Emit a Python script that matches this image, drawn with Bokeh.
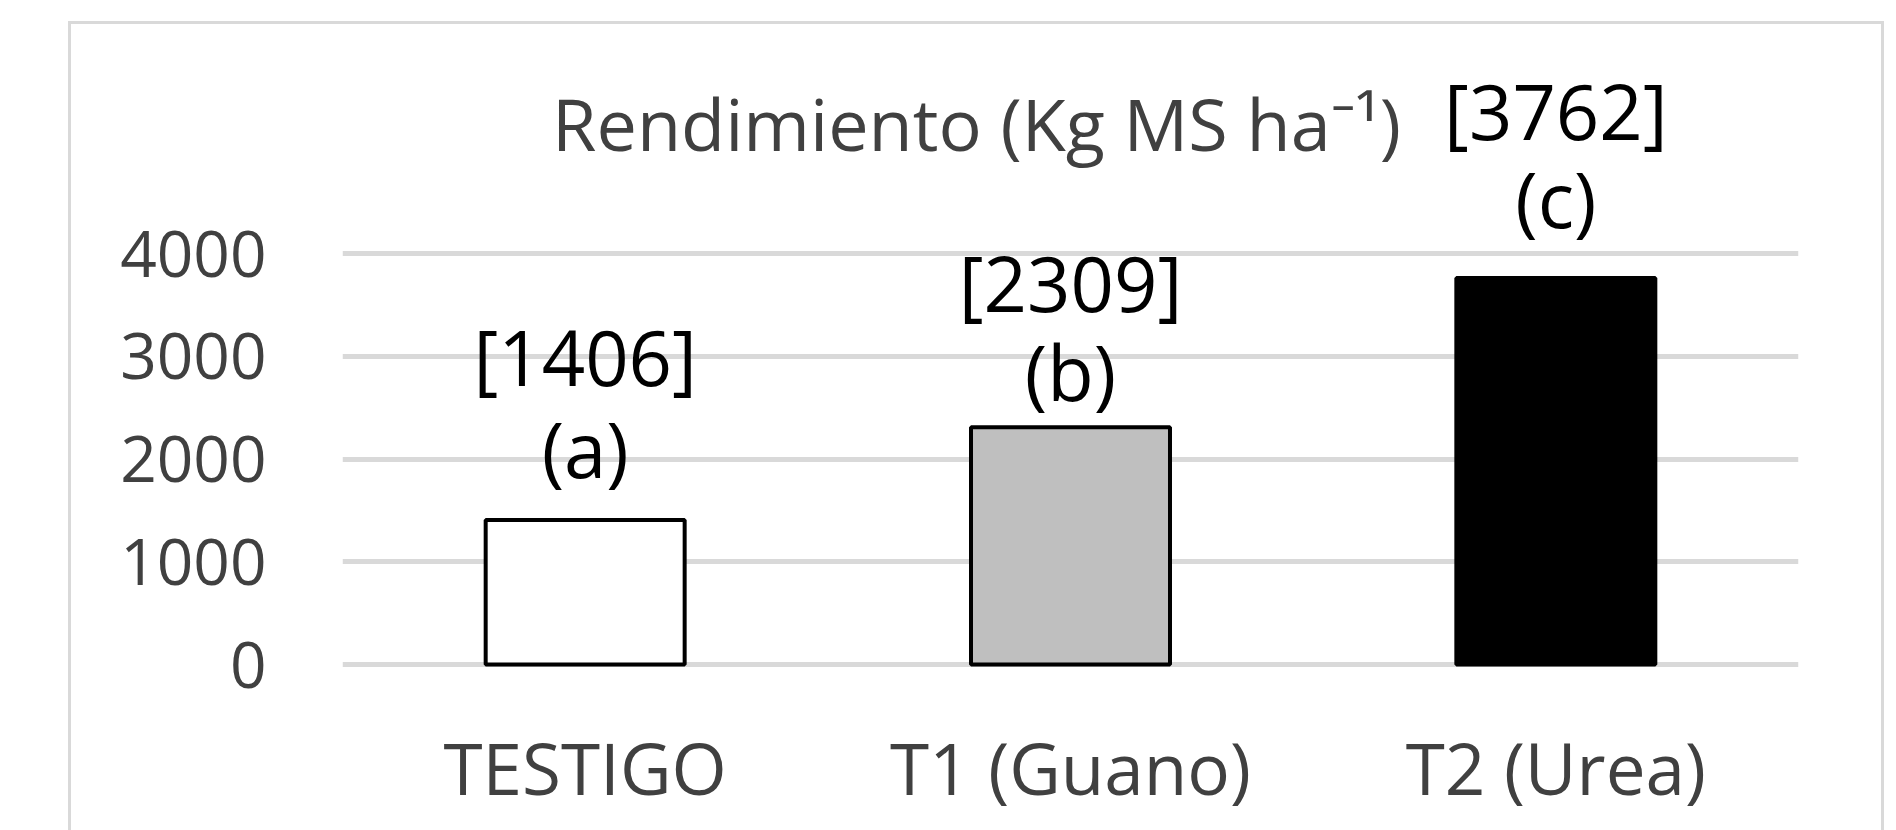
from bokeh.plotting import figure
from bokeh.models import FactorRange, Range1d, FixedTicker, ColumnDataSource, Label
from bokeh.core.properties import value
from bokeh.embed import file_html
from bokeh.resources import INLINE

# ---- data ----
categories = ["TESTIGO", "T1 (Guano)", "T2 (Urea)"]
rendimiento = [1406, 2309, 3762]
letters = ["a", "b", "c"]
y_ticks = [0, 1000, 2000, 3000, 4000]
title_text = "Rendimiento (Kg MS ha\u207b\u00b9)"

# ---- style ----
bar_colors = ["#ffffff", "#bfbfbf", "#000000"]
letter_offsets = [72, 56, 79]
bracket_offsets = [164, 145, 167]
FONT = "Open Sans"
GRAY_TXT = "#404040"
W, H = 1896, 830

src = ColumnDataSource(dict(
    cat=categories,
    val=rendimiento,
    color=bar_colors,
    letter=["(%s)" % l for l in letters],
    bracket=["[%d]" % v for v in rendimiento],
    loff=[-o for o in letter_offsets],
    boff=[-o for o in bracket_offsets],
))

p = figure(width=W, height=H,
           x_range=FactorRange(factors=categories, range_padding=0),
           y_range=Range1d(-97, 6248),
           output_backend="svg", toolbar_location=None,
           min_border_left=342, min_border_right=98,
           min_border_top=22, min_border_bottom=156)
p.outline_line_color = None
p.background_fill_color = "white"
p.border_fill_color = "white"

# chart-area border (light gray), as in the original spreadsheet chart
p.stylesheets = [
    ":host::after { content: ''; position: absolute; left: 68px; top: 21px; "
    "width: 1816px; height: 809px; border: 3px solid #d9d9d9; border-bottom: none; "
    "box-sizing: border-box; pointer-events: none; }"
]

p.xgrid.visible = False
p.yaxis.ticker = FixedTicker(ticks=y_ticks)
p.ygrid.grid_line_color = "#d9d9d9"
p.ygrid.grid_line_width = 5

for ax in (p.xaxis, p.yaxis):
    ax.axis_line_color = None
    ax.major_tick_line_color = None
    ax.minor_tick_line_color = None
    ax.major_tick_out = 0
    ax.major_tick_in = 0
    ax.minor_tick_out = 0
    ax.major_label_text_font = FONT
    ax.major_label_text_color = GRAY_TXT

p.yaxis.major_label_text_font_size = "64px"
p.yaxis.major_label_standoff = 76
p.xaxis.major_label_text_font_size = "71px"
p.xaxis.major_label_standoff = 44

p.vbar(x="cat", top="val", width=0.41, source=src,
       fill_color="color", line_color="black", line_width=4)

p.text(x="cat", y="val", text="letter", y_offset="loff", source=src,
       text_align="center", text_baseline="middle",
       text_font=value(FONT), text_font_size="76px", text_color="black")
p.text(x="cat", y="val", text="bracket", y_offset="boff", source=src,
       text_align="center", text_baseline="middle",
       text_font=value(FONT), text_font_size="76px", text_color="black")

title = Label(x=976, y=122, x_units="canvas", y_units="canvas",
              text=title_text, text_align="center", text_baseline="middle",
              text_font=FONT, text_font_size="72px", text_color=GRAY_TXT)
p.add_layout(title)

open("out.html", "w").write(file_html(p, INLINE))
